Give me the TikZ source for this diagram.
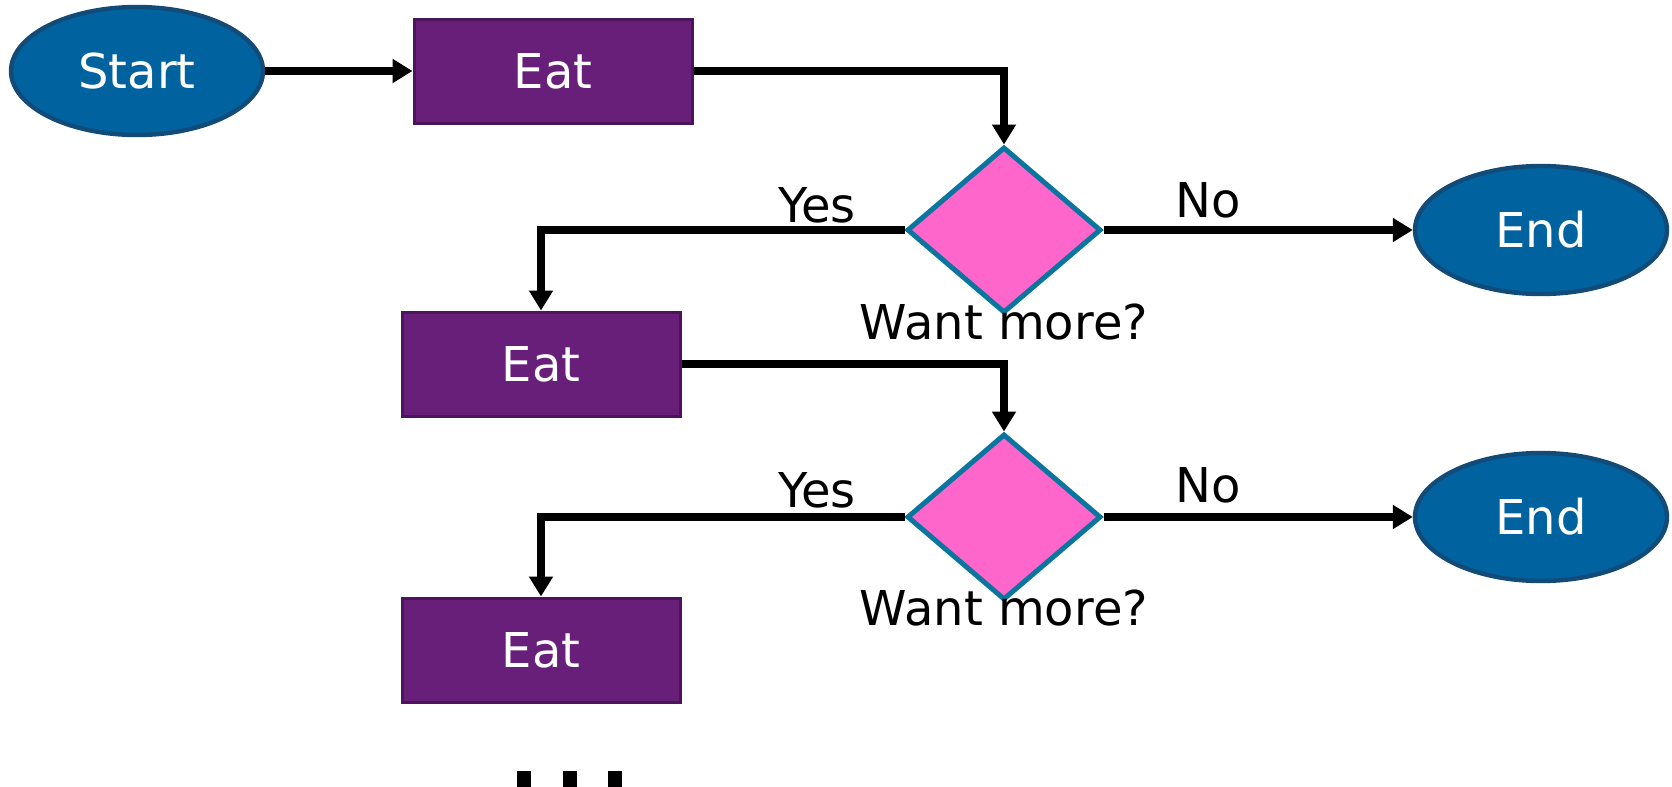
\documentclass[tikz,border=0pt]{standalone}
\usepackage{fontspec}
\setmainfont{DejaVu Sans}
\usetikzlibrary{shapes.geometric,arrows.meta}
\definecolor{termfill}{RGB}{0,99,160}
\definecolor{termline}{RGB}{18,74,120}
\definecolor{eatfill}{RGB}{104,31,122}
\definecolor{eatline}{RGB}{76,20,90}
\definecolor{decfill}{RGB}{255,102,204}
\definecolor{decline}{RGB}{10,118,160}
\tikzset{
  term/.style={ellipse, draw=termline, line width=2.2pt, fill=termfill, text=white,
    minimum width=126pt, minimum height=64pt, inner sep=0pt, font=\fontsize{24}{29}\selectfont},
  eatbox/.style={rectangle, draw=eatline, line width=1.5pt, fill=eatfill, text=white,
    minimum width=139pt, minimum height=52pt, inner sep=0pt, font=\fontsize{24}{29}\selectfont},
  decision/.style={diamond, draw=decline, line width=2.5pt, fill=decfill,
    minimum width=97pt, minimum height=83pt, inner sep=0pt},
  lbl/.style={font=\fontsize{24}{29}\selectfont, text=black, inner sep=0pt},
  arr/.style={draw=black, line width=3.75pt, -{Triangle[length=10pt,width=11.5pt]}}
}
\begin{document}
\begin{tikzpicture}[x=0.5pt,y=-0.5pt]
\useasboundingbox (0,0) rectangle (1672,787);
\fill[white] (0,0) rectangle (1672,787);
% nodes
\node[term] (start) at (137,71) {Start};
\node[eatbox] (eat1) at (553,71) {Eat};
\node[decision] (d1) at (1004,230) {};
\node[term] (end1) at (1541,230) {End};
\node[eatbox] (eat2) at (541,364) {Eat};
\node[decision] (d2) at (1004,517) {};
\node[term] (end2) at (1541,517) {End};
\node[eatbox] (eat3) at (541,650) {Eat};
% labels
\node[lbl] (q1) at (1004,322) {Want more?};
\node[lbl] (q2) at (1004,608) {Want more?};
\node[lbl] (y1) at (817,205) {Yes};
\node[lbl] (n1) at (1208,200) {No};
\node[lbl] (y2) at (817,490) {Yes};
\node[lbl] (n2) at (1208,485) {No};
% connectors
\draw[arr] (start) -- (eat1);
\draw[arr] (eat1.east) -| (d1.north);
\draw[arr] (d1.west) -| (eat2.north);
\draw[arr] (d1.east) -- (end1.west);
\draw[arr] (eat2.east) -| (d2.north);
\draw[arr] (d2.west) -| (eat3.north);
\draw[arr] (d2.east) -- (end2.west);
% cut-off marks at bottom
\fill[black] (517,771) rectangle (531,787);
\fill[black] (563,771) rectangle (577,787);
\fill[black] (608,771) rectangle (622,787);
\end{tikzpicture}
\end{document}
